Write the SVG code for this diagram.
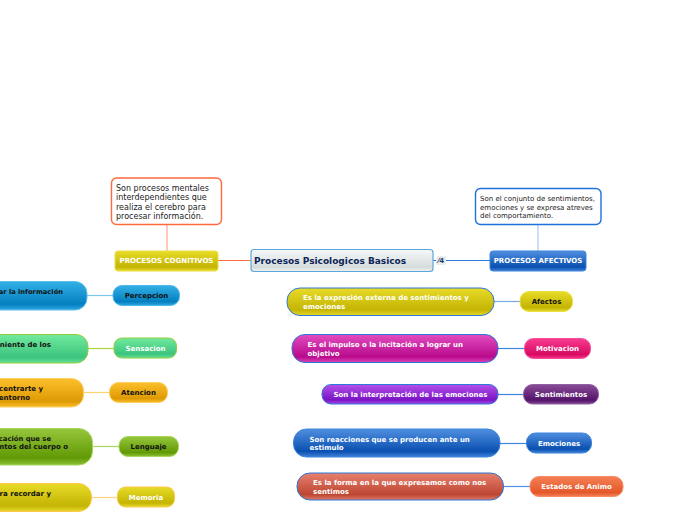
<svg xmlns="http://www.w3.org/2000/svg" width="696" height="520" viewBox="0 0 696 520">
<defs>
<linearGradient id="gBlue" x1="0" y1="0" x2="0" y2="1"><stop offset="0" stop-color="#4f8fe0"/><stop offset=".8" stop-color="#0a50b0"/><stop offset="1" stop-color="#3f82d8"/></linearGradient>
<linearGradient id="gSky" x1="0" y1="0" x2="0" y2="1"><stop offset="0" stop-color="#33b0e6"/><stop offset=".8" stop-color="#0480c0"/><stop offset="1" stop-color="#2ea6e0"/></linearGradient>
<linearGradient id="gMint" x1="0" y1="0" x2="0" y2="1"><stop offset="0" stop-color="#72ea9e"/><stop offset=".8" stop-color="#3cc47e"/><stop offset="1" stop-color="#64e096"/></linearGradient>
<linearGradient id="gOrange" x1="0" y1="0" x2="0" y2="1"><stop offset="0" stop-color="#fcc02c"/><stop offset=".8" stop-color="#de9a04"/><stop offset="1" stop-color="#fbbb2a"/></linearGradient>
<linearGradient id="gGreen" x1="0" y1="0" x2="0" y2="1"><stop offset="0" stop-color="#96c63c"/><stop offset=".8" stop-color="#629a06"/><stop offset="1" stop-color="#8cc034"/></linearGradient>
<linearGradient id="gYellow" x1="0" y1="0" x2="0" y2="1"><stop offset="0" stop-color="#e8dc28"/><stop offset=".8" stop-color="#c4b404"/><stop offset="1" stop-color="#e6da2c"/></linearGradient>
<linearGradient id="gMagenta" x1="0" y1="0" x2="0" y2="1"><stop offset="0" stop-color="#e24cc0"/><stop offset=".8" stop-color="#b80a8c"/><stop offset="1" stop-color="#dc44b8"/></linearGradient>
<linearGradient id="gPink" x1="0" y1="0" x2="0" y2="1"><stop offset="0" stop-color="#f83c90"/><stop offset=".8" stop-color="#d80a62"/><stop offset="1" stop-color="#f4368a"/></linearGradient>
<linearGradient id="gViolet" x1="0" y1="0" x2="0" y2="1"><stop offset="0" stop-color="#b450ea"/><stop offset=".8" stop-color="#7a14c4"/><stop offset="1" stop-color="#a848e4"/></linearGradient>
<linearGradient id="gPlum" x1="0" y1="0" x2="0" y2="1"><stop offset="0" stop-color="#8a4c98"/><stop offset=".8" stop-color="#54146a"/><stop offset="1" stop-color="#80468e"/></linearGradient>
<linearGradient id="gRed" x1="0" y1="0" x2="0" y2="1"><stop offset="0" stop-color="#e8806e"/><stop offset=".8" stop-color="#bc4632"/><stop offset="1" stop-color="#e07a68"/></linearGradient>
<linearGradient id="gCoral" x1="0" y1="0" x2="0" y2="1"><stop offset="0" stop-color="#f48054"/><stop offset=".8" stop-color="#e4582a"/><stop offset="1" stop-color="#f4805a"/></linearGradient>
<linearGradient id="gRoot" x1="0" y1="0" x2="0" y2="1"><stop offset="0" stop-color="#f6f8f8"/><stop offset=".8" stop-color="#d6dcdc"/><stop offset="1" stop-color="#eef1f1"/></linearGradient>
</defs>
<style>
text{font-family:"DejaVu Sans","Liberation Sans",sans-serif;font-weight:bold;font-size:7px}
.w{fill:#fff}.k{fill:#111}
.n{font-weight:normal;fill:#222}
.c{fill:none;stroke-width:1.2}
.e{text-anchor:end}.m{text-anchor:middle}
</style>
<g id="connectors">
<path class="c" d="M167 225V251" stroke="#ffa58c"/>
<path class="c" d="M218 260.500H251" stroke="#ff6e40"/>
<path class="c" d="M538 224V251" stroke="#a9c9f0"/>
<path class="c" d="M433 260.500H490" stroke="#2a78dc"/>
<path class="c" d="M87 295.500H113" stroke="#7cc8ec"/>
<path class="c" d="M88 348.500H114" stroke="#a8d83c"/>
<path class="c" d="M84 392.500H109" stroke="#fbd26c"/>
<path class="c" d="M93 446.500H119" stroke="#a8d860"/>
<path class="c" d="M92 497.500H117" stroke="#fbd480"/>
<path class="c" d="M494 301.500H520" stroke="#7ca8e4"/>
<path class="c" d="M498 348.500H524" stroke="#3c84dc"/>
<path class="c" d="M498 394.500H523" stroke="#3c84dc"/>
<path class="c" d="M500 443.500H526" stroke="#3c84dc"/>
<path class="c" d="M504 486.500H530" stroke="#4c90e4"/>
</g>
<g id="root"><rect x="251" y="249.500" width="182" height="22" rx="3" fill="url(#gRoot)" stroke="#5ca8dc" stroke-width="1.2"/><text x="254" y="264" style="font-size:9px" fill="#0c2458">Procesos Psicologicos Basicos</text></g>
<g id="collapse"><rect x="436" y="256" width="10" height="9" rx="2" fill="#e8ecec"/><text x="441" y="263" class="m" style="font-size:7px" fill="#1c3c68">⁄4</text></g>
<g id="cog"><rect x="115" y="251" width="103" height="20" rx="3" fill="url(#gYellow)" stroke="#eadf40"/><text x="166.500" y="263" class="m w">PROCESOS COGNITIVOS</text></g>
<g id="afe"><rect x="490" y="251" width="96" height="20" rx="3" fill="url(#gBlue)" stroke="#3c84dc"/><text x="538" y="263" class="m w">PROCESOS AFECTIVOS</text></g>
<g id="noteCog"><rect x="111.500" y="178" width="110" height="46.500" rx="5" fill="#fff" stroke="#ff6a3c" stroke-width="1.400"/><text class="n" style="font-size:8px"><tspan x="116" y="191">Son procesos mentales</tspan><tspan x="116" y="200">interdependientes que</tspan><tspan x="116" y="210">realiza el cerebro para</tspan><tspan x="116" y="219">procesar información.</tspan></text></g>
<g id="noteAfe"><rect x="475.500" y="188.500" width="125.500" height="36" rx="5" fill="#fff" stroke="#1e70dc" stroke-width="1.400"/><text class="n"><tspan x="480" y="201">Son el conjunto de sentimientos,</tspan><tspan x="480" y="210">emociones y se expresa atreves</tspan><tspan x="480" y="218">del comportamiento.</tspan></text></g>

<g id="d1"><rect x="-40" y="281.500" width="127" height="28.500" rx="12" fill="url(#gSky)" stroke="#5cc0ec"/><text x="63" y="294" class="e k" style="font-size:6.700px">ar la información</text></g>
<g id="n1"><rect x="113" y="285.500" width="66.500" height="20" rx="9" fill="url(#gSky)" stroke="#4cb8ec"/><text x="146.500" y="298" class="m k">Percepcion</text></g>
<g id="d2"><rect x="-40" y="334.500" width="128" height="28.500" rx="12" fill="url(#gMint)" stroke="#96cc3c"/><text x="51" y="347" class="e k">niente de los</text></g>
<g id="n2"><rect x="114" y="338" width="62.500" height="20" rx="8" fill="url(#gMint)" stroke="#96cc3c"/><text x="145.500" y="350.500" class="m w">Sensacion</text></g>
<g id="d3"><rect x="-40" y="378.500" width="123.500" height="28.500" rx="12" fill="url(#gOrange)" stroke="#fbd060"/><text class="k"><tspan x="43" y="391" class="e">centrarte y</tspan><tspan x="30" y="400" class="e">entorno</tspan></text></g>
<g id="n3"><rect x="109.500" y="382.500" width="58" height="20" rx="9" fill="url(#gOrange)" stroke="#fbd060"/><text x="138.500" y="395" class="m k">Atencion</text></g>
<g id="d4"><rect x="-40" y="428.500" width="132.500" height="36.500" rx="14" fill="url(#gGreen)" stroke="#a8d45c"/><text class="k"><tspan x="51" y="441" class="e" style="font-size:6.800px">cación que se</tspan><tspan x="68" y="449" class="e">ntos del cuerpo o</tspan></text></g>
<g id="n4"><rect x="119" y="436.500" width="59.500" height="20" rx="9" fill="url(#gGreen)" stroke="#a8d45c"/><text x="148.500" y="449" class="m k">Lenguaje</text></g>
<g id="d5"><rect x="-40" y="483.500" width="131.500" height="28" rx="13" fill="url(#gYellow)" stroke="#fbc84c"/><text x="51" y="496" class="e k">ra recordar y</text></g>
<g id="n5"><rect x="117.500" y="487" width="57" height="20" rx="8" fill="url(#gYellow)" stroke="#fbc84c"/><text x="146" y="500" class="m w">Memoria</text></g>

<g id="r1a"><rect x="287" y="288" width="207" height="27.500" rx="13" fill="url(#gYellow)" stroke="#2c78d8"/><text class="w"><tspan x="303" y="300">Es la expresión externa de sentimientos y</tspan><tspan x="303" y="309">emociones</tspan></text></g>
<g id="r1"><rect x="520" y="291.500" width="52.500" height="20" rx="9" fill="url(#gYellow)" stroke="#ecdf40"/><text x="546.500" y="304" class="m k">Afectos</text></g>
<g id="r2a"><rect x="292" y="334.500" width="206" height="28" rx="13" fill="url(#gMagenta)" stroke="#2c78d8"/><text class="w"><tspan x="307.500" y="347">Es el impulso o la incitación a lograr un</tspan><tspan x="307.500" y="356">objetivo</tspan></text></g>
<g id="r2"><rect x="524.500" y="338.500" width="66" height="20" rx="9" fill="url(#gPink)" stroke="#f84c98"/><text x="557.500" y="351" class="m w">Motivacion</text></g>
<g id="r3a"><rect x="322" y="384.500" width="176" height="19.500" rx="9" fill="url(#gViolet)" stroke="#2c78d8"/><text x="333.500" y="397" class="w">Son la interpretación de las emociones</text></g>
<g id="r3"><rect x="523.500" y="384.500" width="75" height="19.500" rx="9" fill="url(#gPlum)" stroke="#9060a0"/><text x="561" y="397" class="m w">Sentimientos</text></g>
<g id="r4a"><rect x="293.500" y="429" width="206.500" height="28" rx="13" fill="url(#gBlue)" stroke="#3c84dc"/><text class="w"><tspan x="309.500" y="442">Son reacciones que se producen ante un</tspan><tspan x="309.500" y="450">estimulo</tspan></text></g>
<g id="r4"><rect x="526.500" y="433" width="65" height="20" rx="9" fill="url(#gBlue)" stroke="#3c84dc"/><text x="559" y="446" class="m w">Emociones</text></g>
<g id="r5a"><rect x="297" y="473" width="206.500" height="27" rx="13" fill="url(#gRed)" stroke="#2c78d8"/><text class="w"><tspan x="313" y="485">Es la forma en la que expresamos como nos</tspan><tspan x="313" y="494">sentimos</tspan></text></g>
<g id="r5"><rect x="530" y="476.500" width="93" height="20" rx="9" fill="url(#gCoral)" stroke="#f88c68"/><text x="576.500" y="489" class="m w">Estados de Animo</text></g>
</svg>
